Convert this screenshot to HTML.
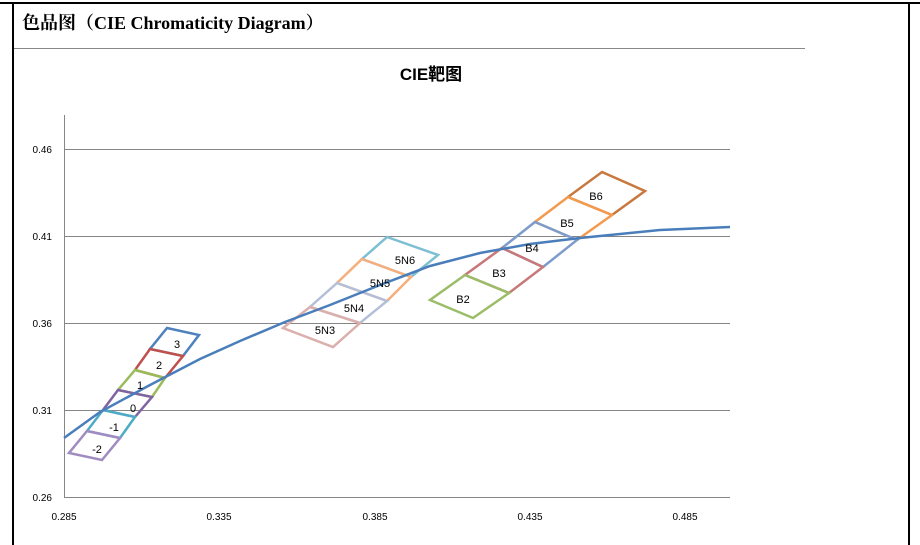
<!DOCTYPE html>
<html><head><meta charset="utf-8"><style>
body{margin:0;background:#fff;width:920px;height:545px;overflow:hidden}
svg{display:block}
</style></head><body>
<svg width="920" height="545" xmlns="http://www.w3.org/2000/svg" font-family="Liberation Sans, Noto Sans CJK SC, sans-serif">
<rect x="0" y="0" width="920" height="545" fill="#fff"/>
<line x1="0" y1="3" x2="920" y2="3" stroke="#000" stroke-width="2"/>
<line x1="13" y1="3" x2="13" y2="545" stroke="#000" stroke-width="2"/>
<line x1="909" y1="3" x2="909" y2="545" stroke="#000" stroke-width="2"/>
<text x="22" y="29" font-family="Liberation Serif, Noto Serif CJK SC, serif" font-weight="bold" font-size="18">色品图（CIE Chromaticity Diagram）</text>
<line x1="14" y1="48.5" x2="805" y2="48.5" stroke="#888" stroke-width="1"/>
<text x="431" y="80" text-anchor="middle" font-weight="bold" font-size="17">CIE靶图</text>
<g stroke="#868686" stroke-width="1">
<line x1="64" y1="149.5" x2="730" y2="149.5"/>
<line x1="64" y1="236.5" x2="730" y2="236.5"/>
<line x1="64" y1="323.5" x2="730" y2="323.5"/>
<line x1="64" y1="410.5" x2="730" y2="410.5"/>
<line x1="64" y1="497.5" x2="730" y2="497.5"/>
<line x1="64.5" y1="115" x2="64.5" y2="497"/>
</g>
<g font-size="10" fill="#000" text-anchor="end">
<text x="52" y="153">0.46</text><text x="52" y="240">0.41</text><text x="52" y="327">0.36</text><text x="52" y="414">0.31</text><text x="52" y="501">0.26</text>
</g>
<g font-size="10" fill="#000" text-anchor="middle">
<text x="64" y="520">0.285</text><text x="219" y="520">0.335</text><text x="375" y="520">0.385</text><text x="530" y="520">0.435</text><text x="685" y="520">0.485</text>
</g>
<g fill="none" stroke-width="2.5" stroke-linejoin="miter">
<polygon points="167,328 199,335 183,356 150,349" stroke="#4f81bd"/>
<polygon points="150,349 183,356 165,378 135,370" stroke="#c0504d"/>
<polygon points="135,370 165,378 152,397 118,390" stroke="#9bbb59"/>
<polygon points="118,390 152,397 135,417 103,410" stroke="#8064a2"/>
<polygon points="103,410 135,417 120,438 87,431" stroke="#4bacc6"/>
<polygon points="87,431 120,438 102,460 69,453" stroke="#a08cc0"/>
<polygon points="387,237 438,255 411,277 362,259" stroke="#7fbfd3"/>
<polygon points="362,259 411,277 387,301 337,283" stroke="#f6ae7c"/>
<polygon points="337,283 387,301 360,323 310,307" stroke="#b3bfd8"/>
<polygon points="310,307 360,323 333,347 283,328" stroke="#dbafac"/>
<polygon points="602,172 645,191 612,215 568,197" stroke="#c8783e"/>
<polygon points="568,197 612,215 577,240 535,222" stroke="#f39a4f"/>
<polygon points="535,222 577,240 543,267 502,248" stroke="#7e9ccb"/>
<polygon points="502,248 543,267 509,293 465,275" stroke="#c87878"/>
<polygon points="465,275 509,293 473,318 430,300" stroke="#9bbd68"/>
</g>
<polyline fill="none" stroke="#4a7ebb" stroke-width="2.5" points="64,438 100,412 150,385 200,359 240,341 285,322 330,305 380,285 430,266 480,253 530,244 580,238 620,234 660,230 730,227"/>
<g font-size="11" fill="#000" text-anchor="middle">
<text x="177" y="348">3</text><text x="159" y="369">2</text><text x="140" y="389">1</text><text x="133" y="412">0</text><text x="114" y="431">-1</text><text x="97" y="453">-2</text>
<text x="405" y="264">5N6</text><text x="380" y="287">5N5</text><text x="354" y="312">5N4</text><text x="325" y="334">5N3</text>
<text x="596" y="200">B6</text><text x="567" y="227">B5</text><text x="532" y="252">B4</text><text x="499" y="277">B3</text><text x="463" y="303">B2</text>
</g>
</svg>
</body></html>
